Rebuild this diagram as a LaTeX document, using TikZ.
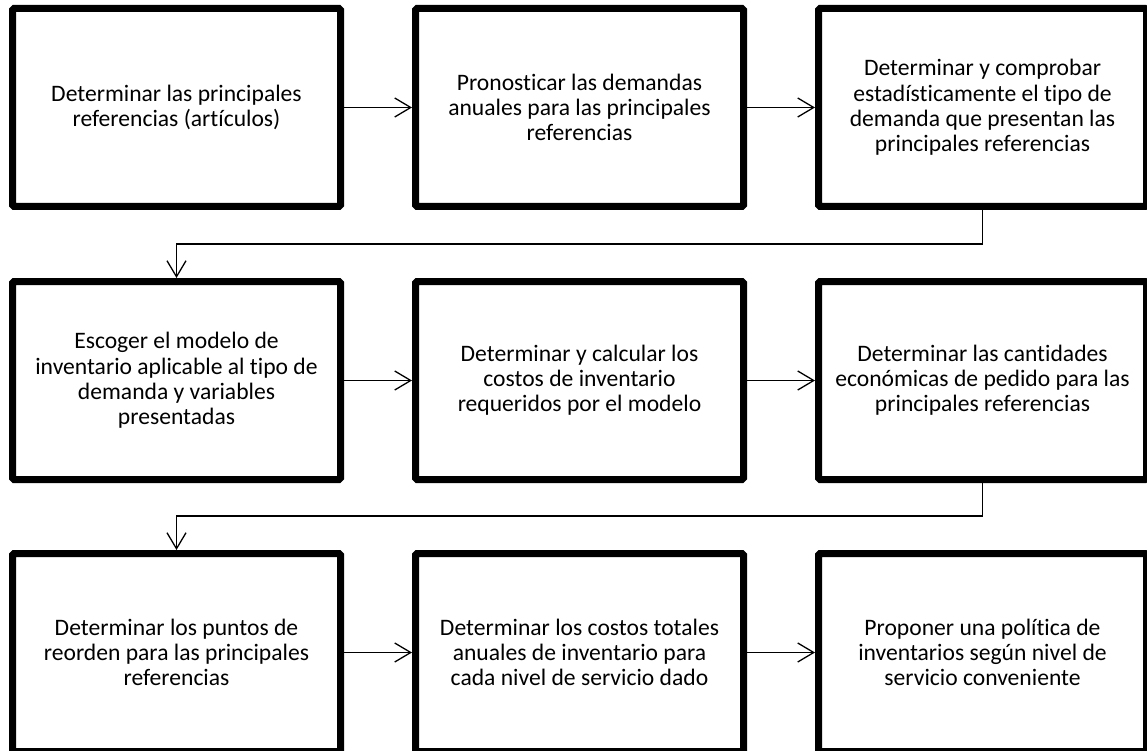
\documentclass[tikz,border=0pt]{standalone}
\usepackage{fontspec}
\setmainfont{Carlito}[Ligatures=NoCommon]
\usetikzlibrary{arrows.meta,shadows}

\tikzset{
  stepbox/.style={draw=black,line width=7pt,fill=white,rounded corners=1.5pt,
    minimum width=328pt,minimum height=198pt,align=center,
    font=\fontsize{23.6}{25.2}\selectfont,
    drop shadow={shadow xshift=2pt,shadow yshift=-2pt,opacity=0.25}},
  flow/.style={line width=1.3pt,-{Straight Barb[length=16pt,width=19pt]}}
}

\begin{document}
\begin{tikzpicture}[x=1pt,y={(0pt,-1pt)}]
\useasboundingbox (0,0) rectangle (1147,751);

% row 1
\node[stepbox] (s1) at (176.5,107.5) {Determinar las principales\\referencias (artículos)};
\node[stepbox] (s2) at (579.5,107.5) {Pronosticar las demandas\\anuales para las principales\\referencias};
\node[stepbox] (s3) at (982.5,107.5) {Determinar y comprobar\\estadísticamente el tipo de\\demanda que presentan las\\principales referencias};

% row 2
\node[stepbox] (s4) at (176.5,380.5) {Escoger el modelo de\\inventario aplicable al tipo de\\demanda y variables\\presentadas};
\node[stepbox] (s5) at (579.5,380.5) {Determinar y calcular los\\costos de inventario\\requeridos por el modelo};
\node[stepbox] (s6) at (982.5,380.5) {Determinar las cantidades\\económicas de pedido para las\\principales referencias};

% row 3
\node[stepbox] (s7) at (176.5,652.5) {Determinar los puntos de\\reorden para las principales\\referencias};
\node[stepbox] (s8) at (579.5,652.5) {Determinar los costos totales\\anuales de inventario para\\cada nivel de servicio dado};
\node[stepbox] (s9) at (982.5,652.5) {Proponer una política de\\inventarios según nivel de\\servicio conveniente};

% connectors
\coordinate (m1) at (0,244);
\coordinate (m2) at (0,516);
\draw[flow] (s1) -- (s2);
\draw[flow] (s2) -- (s3);
\draw[flow] (s3.south) -- (s3.south |- m1) -| (s4.north);
\draw[flow] (s4) -- (s5);
\draw[flow] (s5) -- (s6);
\draw[flow] (s6.south) -- (s6.south |- m2) -| (s7.north);
\draw[flow] (s7) -- (s8);
\draw[flow] (s8) -- (s9);

\end{tikzpicture}
\end{document}
